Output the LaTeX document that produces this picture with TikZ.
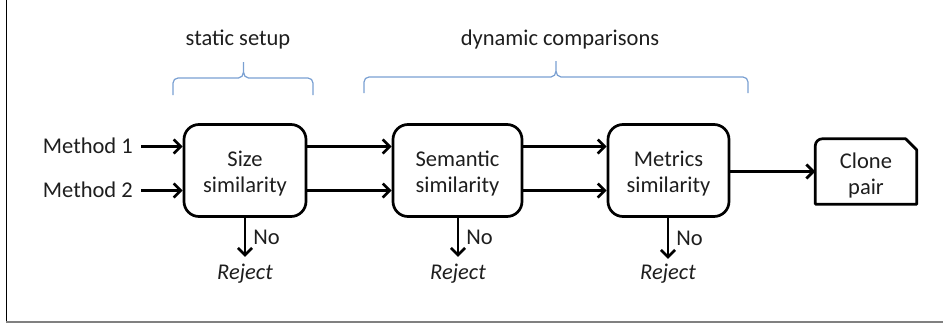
\documentclass[tikz,border=0pt]{standalone}
\usepackage{fontspec}
\setmainfont{Carlito}
\usetikzlibrary{arrows.meta}
\definecolor{braceblue}{RGB}{122,160,210}
\definecolor{framegray}{RGB}{128,128,128}
\definecolor{txt}{RGB}{30,30,30}
\tikzset{
  lbl/.style={font=\fontsize{22.5}{26}\selectfont, inner sep=0pt, text=txt},
  stage/.style={draw, line width=2.7pt, rounded corners=15pt, minimum height=92pt, inner sep=0pt},
  inlbl/.style={lbl, align=center, yshift=-3.5pt},
  flow/.style={line width=2.7pt, -{Straight Barb[length=7pt,width=14pt]}},
  bracecol/.style={draw=braceblue, line width=1.2pt},
  rejectlbl/.style={lbl, font=\fontsize{22.5}{26}\selectfont\itshape, anchor=base}
}
\newcommand\mybrace[6]{%
  \draw[bracecol] (#1,#6) -- (#1,#4-5) to[out=90,in=180] (#1+5,#4) -- (#3-5,#4)
    to[out=0,in=-90] (#3,#4+6) -- (#3,#5) -- (#3,#4+6) to[out=-90,in=180] (#3+5,#4)
    -- (#2-5,#4) to[out=0,in=90] (#2,#4-5) -- (#2,#6);}
\begin{document}
\begin{tikzpicture}[x=1pt,y=1pt]
\useasboundingbox (0,0) rectangle (943,-325);
% frame
\draw[line width=1.4pt] (6.5,0) -- (6.5,-321.5);
\draw[draw=framegray, line width=2.2pt] (5.8,-321.7) -- (943,-321.7);

% top labels and braces
\node[lbl, anchor=base] (static) at (238,-45.5) {static setup};
\node[lbl, anchor=base] (dyn) at (560,-45.5) {dynamic comparisons};
\mybrace{173}{313}{243.5}{-78}{-62}{-95}
\mybrace{364}{748}{556}{-77}{-61}{-93}

% inputs
\node[lbl, anchor=base east] (m1) at (133,-153) {Method 1};
\node[lbl, anchor=base east] (m2) at (133,-197) {Method 2};
\coordinate (r1y) at (0,-146.5);
\coordinate (r2y) at (0,-190.5);

% stages
\node[stage, minimum width=122pt,
  label={[inlbl, name=sizet]center:{Size\\similarity}}] (size) at (245,-170.5) {};
\node[stage, minimum width=129pt,
  label={[inlbl, name=semt]center:{Semantic\\similarity}}] (sem) at (457.5,-170.5) {};
\node[stage, minimum width=121pt,
  label={[inlbl, name=mett]center:{Metrics\\similarity}}] (met) at (668.5,-170.5) {};

% clone pair
\node[minimum width=101pt, minimum height=65pt, inner sep=0pt,
  label={[inlbl, name=clonet]center:{Clone\\pair}}] (clone) at (866,-171.5) {};
\draw[line width=2.7pt, line join=round]
  ([yshift=-11pt]clone.north east) -- ([xshift=-11pt]clone.north east)
  -- ([xshift=7pt]clone.north west) arc[start angle=90, end angle=180, radius=7pt]
  -- (clone.south west) -- (clone.south east) -- cycle;

% reject labels
\node[rejectlbl] (r1) at (245,-279.5) {Reject};
\node[rejectlbl] (r2) at (458,-279.5) {Reject};
\node[rejectlbl] (r3) at (668,-279.5) {Reject};

% connectors
\draw[flow] (m1.east |- r1y) ++(8,0) -- (size.west |- r1y);
\draw[flow] (m2.east |- r2y) ++(8,0) -- (size.west |- r2y);
\draw[flow] (size.east |- r1y) -- (sem.west |- r1y);
\draw[flow] (size.east |- r2y) -- (sem.west |- r2y);
\draw[flow] (sem.east |- r1y) -- (met.west |- r1y);
\draw[flow] (sem.east |- r2y) -- (met.west |- r2y);
\draw[flow] (met.east |- clone.west) -- (clone.west);

\draw[flow] (size.south) -- ([yshift=7pt]r1.north) node[lbl, midway, right=7pt] (no1) {No};
\draw[flow] (sem.south -| r2.north) -- ([yshift=7pt]r2.north) node[lbl, midway, right=7pt] (no2) {No};
\draw[flow] (met.south -| r3.north) -- ([yshift=5pt]r3.north) node[lbl, midway, right=7pt] (no3) {No};
\end{tikzpicture}
\end{document}
